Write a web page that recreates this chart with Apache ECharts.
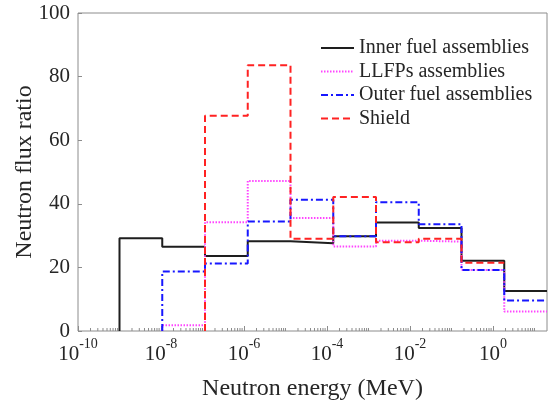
<!DOCTYPE html>
<html>
<head>
<meta charset="utf-8">
<script src="https://cdn.jsdelivr.net/npm/echarts@6/dist/echarts.min.js"></script>
<style>
html,body{margin:0;padding:0;background:#fff;}
#chart{width:548px;height:403px;}
</style>
</head>
<body>
<div id="chart"></div>
<script>
// Energy bin edges (MeV), log-equal bins from 1e-9 to 20 MeV
var binEdges = [1e-9, 1.0718e-8, 1.1487e-7, 1.2311e-6, 1.3195e-5, 1.4142e-4, 1.5157e-3, 1.6245e-2, 0.17411, 1.8661, 20];
// Neutron flux ratio per bin (null = not present)
var innerFuel = [29.2, 26.5, 23.6, 28.2, 27.6, 29.8, 34.1, 32.4, 22.1, 12.6];
var llfps     = [null, 1.8, 34.2, 47.2, 35.5, 26.6, 28.4, 28.1, 19.2, 6.1];
var outerFuel = [null, 18.7, 21.2, 34.4, 41.3, 29.8, 40.5, 33.6, 19.2, 9.6];
var shield    = [null, null, 67.7, 83.6, 29.0, 42.1, 27.9, 29.0, 21.5, null];
var seriesNames = ['Inner fuel assemblies', 'LLFPs assemblies', 'Outer fuel assemblies', 'Shield'];
var xTickExponents = [-10, -8, -6, -4, -2, 0];
var yTicks = [0, 20, 40, 60, 80, 100];

var FONT = 'Liberation Serif, Times New Roman, serif';
var AXC = '#8c8c8c';
var TXT = '#262626';

function stepPoints(vals) {
  var pts = [];
  var first = -1, last = -1;
  for (var i = 0; i < vals.length; i++) {
    if (vals[i] != null) { if (first < 0) first = i; last = i; }
  }
  pts.push([binEdges[first], 0]);
  for (var j = first; j <= last; j++) pts.push([binEdges[j], vals[j]]);
  pts.push([binEdges[last + 1], vals[last]]);
  return pts;
}

// minor tick positions on the log axis (k * 10^n)
var minorTicks = [];
for (var n = -10; n <= 1; n++) {
  for (var k = 1; k <= 9; k++) {
    var v = k * Math.pow(10, n);
    if (v >= 20) continue;
    if (k === 1 && xTickExponents.indexOf(n) >= 0) continue;
    minorTicks.push([v, 0]);
  }
}

var chart = echarts.init(document.getElementById('chart'), null, {renderer: 'canvas'});
var option = {
  animation: false,
  grid: {left: 78, top: 13, right: 1, bottom: 72, show: true, borderColor: AXC, borderWidth: 1,
         backgroundColor: 'transparent', containLabel: false, outerBoundsMode: 'none'},
  legend: {
    orient: 'vertical', left: 320, top: 38, padding: 0,
    data: seriesNames,
    itemWidth: 33, itemHeight: 10, itemGap: 3.5,
    itemStyle: {opacity: 0, borderWidth: 0},
    textStyle: {fontFamily: FONT, fontSize: 20, color: TXT, lineHeight: 20},
    backgroundColor: 'transparent'
  },
  xAxis: [
    {type: 'log', logBase: 10, min: 1e-10, max: 20, position: 'bottom', show: false,
     axisLine: {onZero: false}, splitLine: {show: false}},
    {type: 'value', min: xTickExponents[0], max: Math.log10(20), interval: 2, position: 'bottom',
     axisLine: {show: false, onZero: false}, splitLine: {show: false},
     axisTick: {show: true, inside: true, length: 5, lineStyle: {color: AXC}},
     name: 'Neutron energy (MeV)', nameLocation: 'middle', nameGap: 46,
     nameTextStyle: {fontFamily: FONT, fontSize: 24, color: TXT},
     axisLabel: {
       margin: 6, showMaxLabel: false,
       formatter: function (val) {
         var e = Math.round(val);
         if (Math.abs(val - e) > 1e-6 || xTickExponents.indexOf(e) < 0) return '';
         return '{b|10}{s|' + e + '}';
       },
       rich: {
         b: {fontFamily: FONT, fontSize: 21, color: TXT, lineHeight: 28, verticalAlign: 'bottom'},
         s: {fontFamily: FONT, fontSize: 14, color: TXT, lineHeight: 14, verticalAlign: 'top'}
       }
     }}
  ],
  yAxis: {
    type: 'value', min: yTicks[0], max: yTicks[yTicks.length - 1], interval: 20,
    axisLine: {show: false, onZero: false}, splitLine: {show: false},
    axisTick: {show: true, inside: true, length: 4, lineStyle: {color: AXC}},
    axisLabel: {fontFamily: FONT, fontSize: 21, color: TXT, margin: 8},
    name: 'Neutron flux ratio', nameLocation: 'middle', nameGap: 41, nameRotate: 90,
    nameMoveOverlap: false,
    nameTextStyle: {fontFamily: FONT, fontSize: 24, color: TXT}
  },
  series: [
    {name: seriesNames[0], type: 'line', xAxisIndex: 0, step: 'end', symbol: 'none', data: stepPoints(innerFuel),
     lineStyle: {color: '#1e1e1e', width: 2, type: 'solid'}, itemStyle: {color: '#1e1e1e'}, z: 2},
    {name: seriesNames[1], type: 'line', xAxisIndex: 0, step: 'end', symbol: 'none', data: stepPoints(llfps),
     lineStyle: {color: '#ff44ff', width: 2, type: [1.5, 1.5]}, itemStyle: {color: '#ff44ff'}, z: 3},
    {name: seriesNames[2], type: 'line', xAxisIndex: 0, step: 'end', symbol: 'none', data: stepPoints(outerFuel),
     lineStyle: {color: '#1717ff', width: 2, type: [7, 3, 2, 3]}, itemStyle: {color: '#1717ff'}, z: 4},
    {name: seriesNames[3], type: 'line', xAxisIndex: 0, step: 'end', symbol: 'none', data: stepPoints(shield),
     lineStyle: {color: '#ff2222', width: 2, type: [7, 4]}, itemStyle: {color: '#ff2222'}, z: 5},
    {name: 'minorTicks', type: 'custom', xAxisIndex: 0, silent: true, data: minorTicks, z: 1,
     renderItem: function (params, api) {
       var p = api.coord([api.value(0), api.value(1)]);
       return {type: 'line', shape: {x1: p[0], y1: p[1], x2: p[0], y2: p[1] - 3},
               style: {stroke: AXC, lineWidth: 1}};
     }}
  ]
};
chart.setOption(option);
</script>
</body>
</html>
